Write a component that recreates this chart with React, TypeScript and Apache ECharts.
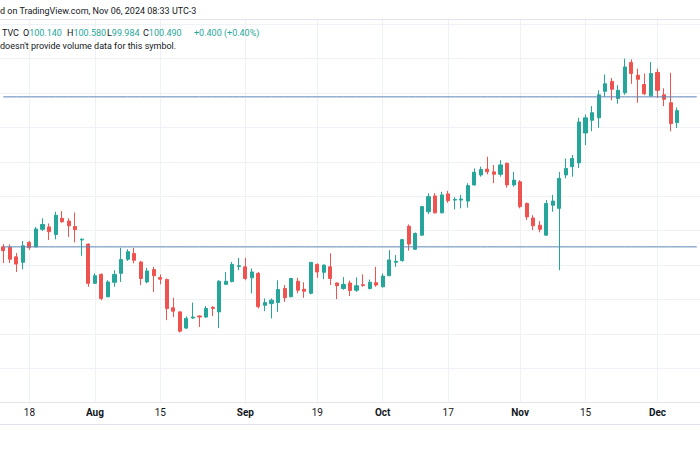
import React, { useEffect, useRef } from "react";
import * as echarts from "echarts";

// Daily candles, oldest first
const opens = [
  96.53, 96.52, 96.24, 96.08, 96.66, 96.53, 97.04, 97.11, 96.89, 97.36,
  97.28, 97.12, 96.73, 96.61, 95.47, 95.73, 95.08, 95.5, 95.76, 96.17,
  96.34, 96.09, 95.51, 95.87, 95.64, 95.58, 94.76, 94.64, 94.17, 94.46,
  94.52, 94.49, 94.77, 94.64, 95.44, 95.52, 95.96, 95.95, 95.63, 95.76,
  94.83, 94.88, 94.91, 95.32, 95.08, 95.53, 95.3, 95.18, 96.02, 95.79,
  95.95, 95.48, 95.32, 95.48, 95.27, 95.43, 95.32, 95.49, 95.37, 95.69,
  96.08, 96.13, 97.13, 96.46, 96.87, 97.55, 98.01, 97.52, 98.07, 97.89,
  97.89, 97.86, 98.33, 98.62, 98.79, 98.71, 98.64, 98.96, 98.33, 98.42,
  97.79, 97.37, 97.16, 96.87, 97.74, 97.65, 98.62, 98.86, 98.97, 99.84,
  100.21, 100.28, 101.05, 101.34, 100.84, 101.01, 101.89, 101.52, 101.25, 100.92,
  101.6, 100.95, 100.72, 100.14,
];
const closes = [
  96.42, 96.17, 96.03, 96.56, 96.51, 97.05, 97.18, 96.97, 97.45, 97.26,
  97.14, 97.03, 96.75, 95.47, 95.69, 95.03, 95.51, 95.73, 96.16, 96.39,
  96.14, 95.61, 95.83, 95.69, 95.59, 94.74, 94.66, 94.08, 94.45, 94.49,
  94.49, 94.74, 94.74, 95.53, 95.53, 96.02, 95.98, 95.61, 95.8, 94.79,
  94.91, 94.98, 95.29, 95.05, 95.61, 95.27, 95.24, 96.08, 95.8, 96.0,
  95.61, 95.4, 95.44, 95.26, 95.4, 95.41, 95.5, 95.42, 95.68, 96.15,
  96.11, 96.74, 96.61, 96.92, 97.7, 97.99, 97.52, 98.04, 97.87, 97.91,
  97.92, 98.31, 98.7, 98.78, 98.71, 98.64, 98.91, 98.33, 98.47, 97.7,
  97.4, 97.14, 97.04, 97.79, 97.86, 98.52, 98.81, 99.1, 100.16, 100.28,
  100.43, 100.95, 101.27, 101.11, 101.08, 101.76, 101.57, 101.4, 100.98, 101.57,
  101.08, 100.82, 100.11, 100.49,
];
const lows = [
  96.06, 96.06, 95.8, 95.88, 96.44, 96.51, 96.99, 96.73, 96.75, 97.23,
  96.82, 96.66, 96.27, 95.37, 95.45, 94.98, 95.06, 95.37, 95.51, 96.12,
  96.05, 95.42, 95.47, 95.22, 95.44, 94.4, 94.49, 94.04, 94.14, 94.43,
  94.2, 94.47, 94.52, 94.17, 95.42, 95.5, 95.85, 95.56, 95.18, 94.74,
  94.66, 94.45, 94.64, 94.93, 95.06, 95.18, 95.05, 95.15, 95.63, 95.59,
  95.42, 95.01, 95.28, 95.1, 95.22, 95.37, 95.29, 95.37, 95.35, 95.68,
  95.95, 96.1, 96.42, 96.44, 96.85, 97.48, 97.5, 97.5, 97.81, 97.62,
  97.65, 97.67, 98.31, 98.57, 98.64, 98.38, 98.57, 98.25, 98.28, 97.65,
  97.31, 97.02, 96.95, 96.86, 97.55, 95.85, 98.52, 98.57, 98.82, 99.49,
  99.89, 99.99, 100.89, 100.79, 100.69, 100.95, 101.27, 100.72, 100.94, 100.89,
  100.86, 100.62, 99.89, 99.984,
];
const highs = [
  96.61, 96.6, 96.35, 96.7, 96.7, 97.11, 97.36, 97.21, 97.55, 97.57,
  97.36, 97.53, 96.78, 96.63, 95.76, 95.76, 95.56, 95.85, 96.5, 96.46,
  96.5, 96.12, 95.92, 95.95, 95.73, 95.61, 95.05, 94.66, 94.51, 94.91,
  94.54, 94.81, 94.81, 95.56, 95.8, 96.09, 96.21, 96.21, 95.9, 95.8,
  95.03, 95.03, 95.56, 95.42, 95.63, 95.63, 95.5, 96.09, 96.05, 96.02,
  96.34, 95.49, 95.65, 95.55, 95.64, 95.73, 95.58, 95.95, 95.76, 96.44,
  96.29, 96.76, 97.18, 96.95, 97.72, 98.09, 98.09, 98.13, 98.16, 97.97,
  98.04, 98.38, 98.81, 98.86, 99.15, 98.91, 99.05, 98.98, 98.71, 98.47,
  97.82, 97.45, 97.28, 97.89, 98.04, 98.71, 99.1, 99.2, 100.28, 100.38,
  100.62, 101.08, 101.54, 101.44, 101.23, 102.0, 101.98, 101.71, 101.57, 101.9,
  101.71, 101.14, 101.59, 100.58,
];

// Time-axis tick labels (candle index -> label)
const tickIndex = [4, 14, 24, 37, 48, 58, 68, 79, 89, 100];
const tickLabels = ["18", "Aug", "15", "Sep", "19", "Oct", "17", "Nov", "15", "Dec"];
const monthLabels = ["Aug", "Sep", "Oct", "Nov", "Dec"];

// Horizontal levels drawn on the chart
const levelLines = [100.89, 96.53];

// Header legend values
const legendSymbol = "TVC";
const legendOHLC = [
  { k: "O", v: "100.140" },
  { k: "H", v: "100.580" },
  { k: "L", v: "99.984" },
  { k: "C", v: "100.490" },
];
const legendChange = "+0.400 (+0.40%)";

const emptySlotsRight = 3;
const categories = Array.from({ length: opens.length + emptySlotsRight }, (_, i) => `D${i}`);

const UP = "#26a69a";
const DOWN = "#ef5350";
const LEVEL = "#5a85b5";
const TEXT = "#131722";
const GRID = "#eef1f6";
const FONT = "Roboto, 'Liberation Sans', sans-serif";

export default function App() {
  const ref = useRef<HTMLDivElement>(null);

  useEffect(() => {
    const chart = echarts.init(ref.current!, null, { renderer: "svg" });
    const candles = opens.map((o, i) => [o, closes[i], lows[i], highs[i]]);
    const legendX = [23, 67, 107, 143];

    const levelSeries = levelLines.map((v) => ({
      type: "line",
      data: categories.map(() => v),
      silent: true,
      symbol: "none",
      showSymbol: false,
      z: 4,
      lineStyle: { color: LEVEL, width: 1, type: "solid" },
      itemStyle: { color: LEVEL },
      emphasis: { disabled: true },
    }));

    const option: any = {
      animation: false,
      backgroundColor: "#ffffff",
      grid: { left: -1.6, top: 17.4, width: 705.7, height: 385.3, containLabel: false },
      xAxis: {
        type: "category",
        data: categories,
        boundaryGap: true,
        axisLine: { show: true, lineStyle: { color: "#e0e3eb", width: 1 } },
        axisTick: { show: false },
        splitLine: { show: false },
        axisLabel: {
          interval: (i: number) => tickIndex.includes(i),
          formatter: (_v: string, i: number) => {
            const k = tickIndex.indexOf(i);
            if (k < 0) return "";
            const t = tickLabels[k];
            return monthLabels.includes(t) ? `{m|${t}}` : `{d|${t}}`;
          },
          margin: 5,
          color: TEXT,
          fontSize: 10,
          fontFamily: FONT,
          rich: {
            m: { fontWeight: "bold", fontSize: 10, color: TEXT, fontFamily: FONT },
            d: { fontSize: 10, color: TEXT, fontFamily: FONT },
          },
        },
      },
      yAxis: {
        type: "value",
        min: 92,
        max: 103.2,
        interval: 1,
        axisLine: { show: false },
        axisTick: { show: false },
        axisLabel: { show: false },
        splitLine: { show: true, showMaxLine: false, lineStyle: { color: GRID, width: 1 } },
      },
      series: [
        {
          type: "line",
          data: [],
          silent: true,
          z: 1,
          markLine: {
            z: 1,
            silent: true,
            symbol: ["none", "none"],
            label: { show: false },
            lineStyle: { color: GRID, width: 1, type: "solid" },
            data: tickIndex.map((i) => ({ xAxis: i })),
          },
        },
        {
          type: "candlestick",
          data: candles,
          barWidth: 3.6,
          z: 2,
          itemStyle: {
            color: UP,
            color0: DOWN,
            borderColor: UP,
            borderColor0: DOWN,
            borderWidth: 1,
          },
        },
        ...levelSeries,
      ],
      graphic: [
        { type: "rect", z: 50, shape: { x: 0, y: 0, width: 700, height: 19 }, style: { fill: "#ffffff" } },
        { type: "line", z: 51, shape: { x1: 0, y1: 19.5, x2: 700, y2: 19.5 }, style: { stroke: "#e0e3eb", lineWidth: 1 } },
        { type: "line", z: 51, shape: { x1: 0, y1: 424.5, x2: 700, y2: 424.5 }, style: { stroke: "#e0e3eb", lineWidth: 1 } },
        {
          type: "text", z: 52, x: 0, y: 11,
          style: { text: "d on TradingView.com, Nov 06, 2024 08:33 UTC-3", fill: TEXT, font: `9px ${FONT}`, verticalAlign: "middle" },
        },
        {
          type: "text", z: 52, x: 2, y: 33,
          style: { text: legendSymbol, fill: TEXT, font: `9px ${FONT}`, verticalAlign: "middle" },
        },
        ...legendOHLC.map((it, j) => ({
          type: "text", z: 52, x: legendX[j], y: 33,
          style: {
            text: `{k|${it.k}}{v|${it.v}}`,
            font: `9px ${FONT}`,
            verticalAlign: "middle",
            rich: {
              k: { fill: TEXT, font: `9px ${FONT}` },
              v: { fill: UP, font: `9px ${FONT}` },
            },
          },
        })),
        {
          type: "text", z: 52, x: 194, y: 33,
          style: { text: legendChange, fill: UP, font: `9px ${FONT}`, verticalAlign: "middle" },
        },
        {
          type: "text", z: 52, x: 0, y: 46,
          style: { text: "doesn't provide volume data for this symbol.", fill: TEXT, font: `9px ${FONT}`, verticalAlign: "middle" },
        },
      ],
    };

    chart.setOption(option);
    return () => chart.dispose();
  }, []);

  return (
    <div
      ref={ref}
      style={{ position: "fixed", left: 0, top: 0, width: 700, height: 450, background: "#ffffff" }}
    />
  );
}
